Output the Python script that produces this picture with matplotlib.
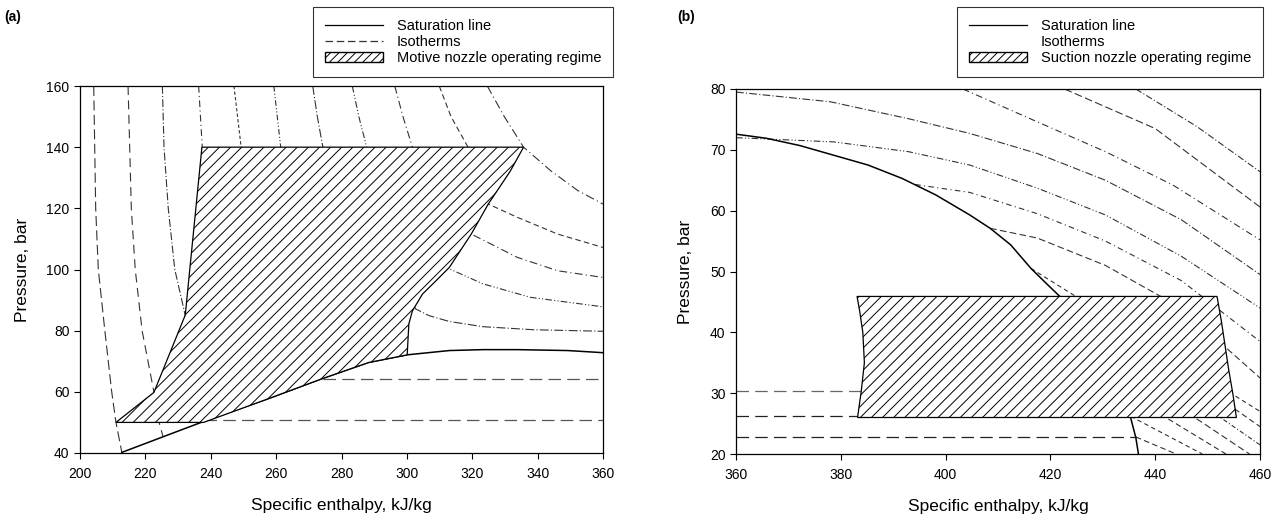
# P-h diagrams of CO2 with motive / suction nozzle operating regimes
import numpy as np
import matplotlib.pyplot as plt
from matplotlib.patches import Polygon, Patch
from matplotlib.lines import Line2D

plt.rcParams['font.family'] = ['Liberation Sans', 'DejaVu Sans']
plt.rcParams['hatch.linewidth'] = 0.7

# ---------------- panel (a) data: enthalpy kJ/kg, pressure bar ----------------
sat_a_h = [212.8, 225.4, 237.8, 257.2, 274.3, 288.3, 300.1, 313.0, 323.3, 333.7, 349.2, 360.0]
sat_a_p = [40.2, 45.3, 50.3, 57.6, 64.4, 69.6, 72.1, 73.5, 73.8, 73.8, 73.5, 72.8]

motive_h = [211.0, 222.6, 232.2, 237.3, 335.7, 331.6, 324.9, 319.7, 313.0, 308.9, 304.8,
            301.7, 300.6, 300.1, 288.3, 274.3, 257.2, 237.8]
motive_p = [50.0, 59.8, 85.1, 140.0, 140.0, 132.1, 121.4, 111.6, 100.7, 96.3, 92.0,
            86.5, 82.2, 72.1, 69.6, 64.4, 57.6, 50.0]

# isotherms in panel (a), each as (h list, p list)
iso_a = [
    ([204.2, 204.8, 205.6, 207.6, 209.7, 211.0, 212.8], [160, 120, 100, 80, 60, 50, 40.2]),
    ([214.7, 215.7, 216.9, 219.0, 222.6, 224.2, 225.4], [160, 120, 100, 80, 60, 50, 45.3]),
    ([225.2, 225.7, 227.0, 229.0, 232.2, 236.0, 237.8], [160, 140, 120, 100, 85, 60, 50.8]),
    ([236.3, 237.4, 240.0, 255.0, 274.3], [160, 140, 110, 80, 64.3]),
    ([247.1, 249.3, 262.0], [160, 140, 100]),
    ([259.3, 261.4, 275.0], [160, 140, 100]),
    ([271.2, 272.6, 274.3, 302.7, 306.8, 313.0, 323.3, 338.8, 360.0],
     [160, 150, 140, 87.1, 84.9, 83.0, 81.3, 80.3, 79.8]),
    ([283.3, 285.3, 287.7, 313.0, 323.3, 337.8, 360.0], [160, 150, 140, 100.2, 95.3, 90.9, 87.8]),
    ([296.3, 298.8, 301.7, 319.7, 333.7, 346.1, 360.0], [160, 150, 140, 111.6, 104.0, 99.6, 97.4]),
    ([309.9, 313.5, 318.7, 324.9, 333.7, 346.1, 360.0], [160, 150, 140, 121.4, 117.1, 111.6, 107.2]),
    ([324.6, 329.8, 335.7, 344.0, 352.3, 360.0], [160, 150, 140, 132.3, 125.8, 121.4]),
]
dash_a = [(0, (9, 4)), (0, (8, 5)), (0, (7, 2, 1, 2)), (0, (6, 3, 1, 3)), (0, (3, 2)),
          (0, (5, 2, 1, 2, 1, 2)), (0, (8, 2, 1, 2)), (0, (6, 2, 1, 2, 1, 2)),
          (0, (7, 3, 1, 3)), (0, (5, 3)), (0, (8, 3, 1, 3))]
# two-phase (horizontal) isotherm parts in panel (a)
flat_a_h = [[237.8, 360.0], [274.3, 360.0]]
flat_a_p = [[50.8, 50.8], [64.3, 64.3]]

# ---------------- panel (b) data ----------------
sat_b_h = [359.8, 365.8, 372.2, 378.7, 385.2, 391.7, 398.1, 404.6, 408.5, 412.4, 416.3,
           419.5, 421.8, 428.0, 435.3, 436.3, 436.8]
sat_b_p = [72.6, 71.9, 70.7, 69.1, 67.5, 65.3, 62.6, 59.3, 57.1, 54.4, 50.5,
           47.8, 45.9, 36.0, 26.0, 22.7, 20.0]

suction_h = [383.1, 451.8, 452.6, 453.3, 454.0, 454.8, 455.5, 383.2, 383.9, 384.5, 384.2, 383.6]
suction_p = [45.9, 45.9, 42.0, 38.0, 34.0, 30.0, 26.0, 26.0, 30.3, 35.0, 40.0, 43.5]

iso_b = [
    ([403.3, 417.5, 430.5, 443.4, 460.0], [80.0, 74.6, 69.7, 64.2, 55.2]),
    ([422.7, 440.0, 460.0], [80.0, 73.5, 60.6]),
    ([436.3, 448.0, 460.0], [80.0, 73.8, 66.4]),
    ([360.0, 378.0, 393.0, 404.6, 417.5, 430.5, 445.0, 460.0],
     [79.5, 77.9, 75.1, 72.7, 69.4, 65.0, 58.5, 49.5]),
    ([360.0, 378.7, 392.9, 404.6, 417.5, 430.5, 445.0, 460.0],
     [72.0, 71.3, 69.7, 67.5, 63.7, 59.3, 52.5, 44.0]),
    ([394.2, 404.6, 417.5, 430.5, 445.0, 460.0], [64.3, 63.0, 59.5, 55.0, 48.5, 38.5]),
    ([408.5, 417.5, 430.5, 445.0, 460.0], [57.1, 55.5, 51.0, 44.0, 32.5]),
    ([416.3, 460.0], [50.5, 27.0]),
    ([426.0, 460.0], [45.0, 24.5]),
    ([429.5, 460.0], [39.7, 21.5]),
    ([432.0, 458.0], [34.9, 20.0]),
    ([433.8, 453.5], [30.3, 20.0]),
    ([435.3, 449.0], [26.2, 20.0]),
    ([436.3, 444.0], [22.8, 20.0]),
]
dash_b = [(0, (6, 3, 1, 3)), (0, (7, 3)), (0, (6, 2, 1, 2)), (0, (7, 2, 1, 2)),
          (0, (6, 2, 1, 2, 1, 2)), (0, (5, 3, 1, 3)), (0, (6, 3)), (0, (4, 3)),
          (0, (5, 3)), (0, (4, 2, 1, 2)), (0, (6, 3)), (0, (5, 3)), (0, (4, 3)), (0, (5, 3))]
# two-phase (horizontal) isotherm parts in panel (b)
flat_b_h = [[360.0, 384.0], [360.0, 435.3], [360.0, 436.3]]
flat_b_p = [[30.3, 30.3], [26.2, 26.2], [22.8, 22.8]]
flat_b_col = ['#666666', '#222222', '#222222']

fig = plt.figure(figsize=(12.78, 5.22), dpi=100)
ax1 = fig.add_axes([80 / 1278, 69 / 522, 523 / 1278, 367 / 522])
ax2 = fig.add_axes([736 / 1278, 68 / 522, 524 / 1278, 365 / 522])


def style_axes(ax, xlim, ylim, xt, yt):
    ax.set_xlim(*xlim)
    ax.set_ylim(*ylim)
    ax.set_xticks(xt)
    ax.set_yticks(yt)
    ax.tick_params(direction='out', length=4, width=0.8, labelsize=10, top=False, right=False)
    ax.tick_params(axis='x', pad=6)
    for s in ax.spines.values():
        s.set_linewidth(0.9)
    ax.set_xlabel('Specific enthalpy, kJ/kg', fontsize=12.5, labelpad=12)
    ax.set_ylabel('Pressure, bar', fontsize=12.5, labelpad=12)


# panel (a)
for (h, p), ls in zip(iso_a, dash_a):
    ax1.plot(h, p, color='#333333', lw=0.8, ls=ls, zorder=1)
for h, p in zip(flat_a_h, flat_a_p):
    ax1.plot(h, p, color='#555555', lw=0.9, ls=(0, (10, 5)), zorder=1)
ax1.plot(sat_a_h, sat_a_p, color='black', lw=1.1, zorder=2)
ax1.add_patch(Polygon(np.column_stack([motive_h, motive_p]), closed=True, facecolor='white',
                      edgecolor='black', hatch='///', lw=0.9, zorder=3))
style_axes(ax1, (200, 360), (40, 160), range(200, 361, 20), range(40, 161, 20))

# panel (b)
for (h, p), ls in zip(iso_b, dash_b):
    ax2.plot(h, p, color='#333333', lw=0.8, ls=ls, zorder=1)
for h, p, c in zip(flat_b_h, flat_b_p, flat_b_col):
    ax2.plot(h, p, color=c, lw=0.9, ls=(0, (10, 5)), zorder=1)
ax2.plot(sat_b_h, sat_b_p, color='black', lw=1.1, zorder=2)
ax2.add_patch(Polygon(np.column_stack([suction_h, suction_p]), closed=True, facecolor='white',
                      edgecolor='black', hatch='///', lw=0.9, zorder=3))
style_axes(ax2, (360, 460), (20, 80), range(360, 461, 20), range(20, 81, 10))

# legends
h_sat = Line2D([], [], color='black', lw=0.9)
h_iso = Line2D([], [], color='#333333', lw=0.9, ls=(0, (6, 3)))
h_none = Line2D([], [], color='none')
leg_kw = dict(fontsize=10.5, frameon=True, fancybox=False, edgecolor='black',
              handlelength=4.0, handletextpad=0.95, labelspacing=0.15, borderpad=0.8,
              borderaxespad=0, loc='upper right', bbox_transform=fig.transFigure)
l1 = fig.legend([h_sat, h_iso, Patch(facecolor='white', edgecolor='black', hatch='////')],
                ['Saturation line', 'Isotherms', 'Motive nozzle operating regime'],
                bbox_to_anchor=(613 / 1278, 1 - 7 / 522), **leg_kw)
l2 = fig.legend([h_sat, h_none, Patch(facecolor='white', edgecolor='black', hatch='////')],
                ['Saturation line', 'Isotherms', 'Suction nozzle operating regime'],
                bbox_to_anchor=(1263 / 1278, 1 - 7 / 522), **leg_kw)
for l in (l1, l2):
    l.get_frame().set_linewidth(0.8)

fig.text(4 / 1278, 1 - 17 / 522, '(a)', fontsize=10, fontweight='bold', va='center')
fig.text(677 / 1278, 1 - 17 / 522, '(b)', fontsize=10, fontweight='bold', va='center')

fig.savefig('out.png', dpi=100)
